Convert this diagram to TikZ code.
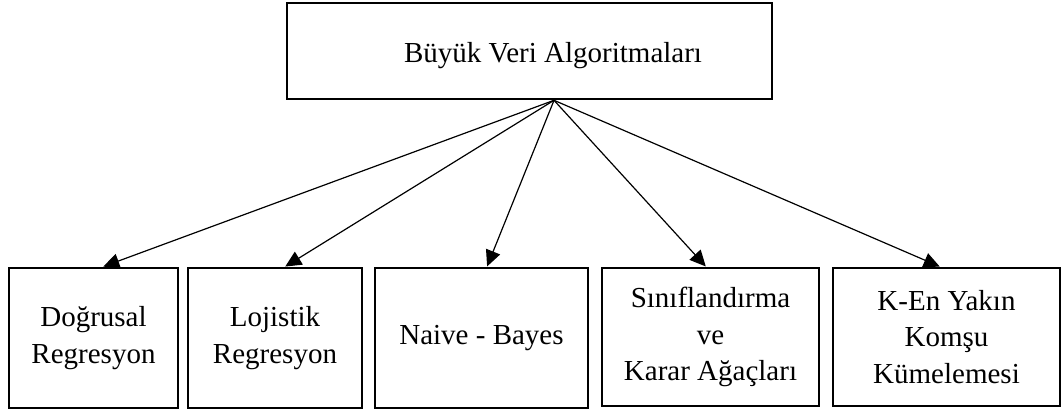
\documentclass[tikz,border=0pt]{standalone}
\usepackage{fontspec}
\setmainfont{Liberation Serif}
\usetikzlibrary{arrows.meta}
\begin{document}
\begin{tikzpicture}[x=1pt,y=-1pt,
  box/.style={draw, line width=2.6pt, inner sep=0pt, align=center,
    font=\fontsize{29}{36.5}\selectfont},
  link/.style={line width=1.2pt, -{Triangle[length=16pt,width=15pt]}, shorten >=0.3pt}]
\useasboundingbox (0,0) rectangle (1062,410);
% root
\node[box, minimum width=485pt, minimum height=96pt] (root) at (529.5,51)
  {\hspace*{47pt}\raisebox{-5pt}[\height][\depth]{Büyük Veri Algoritmaları}};
% leaves
\node[box, minimum width=169pt, minimum height=140pt] (b1) at (93.5,338) {Doğrusal\\Regresyon};
\node[box, minimum width=174pt, minimum height=140pt] (b2) at (275,338) {Lojistik\\Regresyon};
\node[box, minimum width=213pt, minimum height=140pt] (b3) at (481.5,338) {Naive - Bayes};
\node[box, minimum width=217pt, minimum height=138pt] (b4) at (710.5,337) {Sınıflandırma\\ve\\Karar Ağaçları};
\node[box, minimum width=227pt, minimum height=138pt] (b5) at (946.5,337) {K-En Yakın\\Komşu\\Kümelemesi};
% connectors
\coordinate (src) at ([xshift=24.5pt]root.south);
\draw[link] (src) -- ([xshift=9.5pt]b1.north);
\draw[link] (src) -- ([xshift=10pt]b2.north);
\draw[link] (src) -- ([xshift=5.5pt]b3.north);
\draw[link] (src) -- ([xshift=-4.5pt]b4.north);
\draw[link] (src) -- ([xshift=-6.5pt]b5.north);
\end{tikzpicture}
\end{document}
